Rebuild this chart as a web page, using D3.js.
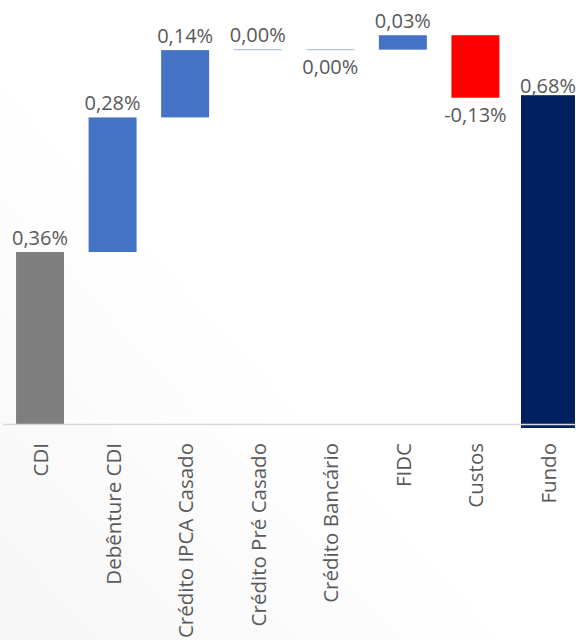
<!DOCTYPE html>
<html>
<head>
<meta charset="utf-8">
<script src="https://cdn.jsdelivr.net/npm/d3@7"></script>
<style>
  html, body { margin: 0; padding: 0; background: #ffffff; }
  svg { display: block; }
</style>
</head>
<body>
<svg id="chart" width="576" height="640"></svg>
<script>
// Attribution of the fund's return, in percentage points
const categories = ["CDI", "Debênture CDI", "Crédito IPCA Casado", "Crédito Pré Casado",
                    "Crédito Bancário", "FIDC", "Custos", "Fundo"];
const values = [0.36, 0.28, 0.14, 0.002, -0.001, 0.03, -0.13, 0.68];
const kinds = ["total", "step", "step", "step", "step", "step", "step", "total"];
const labels = ["0,36%", "0,28%", "0,14%", "0,00%", "0,00%", "0,03%", "-0,13%", "0,68%"];

const W = 576, H = 640;
const svg = d3.select("#chart");

// faint background sheen
const defs = svg.append("defs");
const grad = defs.append("linearGradient").attr("id", "bg")
  .attr("x1", "0").attr("y1", "1").attr("x2", "1").attr("y2", "0");
grad.append("stop").attr("offset", "0").attr("stop-color", "#f6f6f6");
grad.append("stop").attr("offset", "0.45").attr("stop-color", "#ffffff");
grad.append("stop").attr("offset", "1").attr("stop-color", "#ffffff");
svg.append("rect").attr("width", W).attr("height", H).attr("fill", "url(#bg)");

// running totals for the waterfall
let run = 0;
const bars = categories.map((c, i) => {
  let y0, y1;
  if (kinds[i] === "total") { y0 = 0; y1 = values[i]; run = values[i]; }
  else { y0 = run; y1 = run + values[i]; run = y1; }
  return { cat: c, v: values[i], y0, y1, kind: kinds[i], label: labels[i], i };
});

const x = d3.scaleBand().domain(categories).range([3.7, 584.3]).paddingInner(0.339).paddingOuter(0.17);
const y = d3.scaleLinear().domain([0, 0.8843]).range([425, 0]);

const color = (d) => {
  if (d.i === 0) return "#7f7f7f";
  if (d.i === categories.length - 1) return "#002060";
  return d.v < 0 ? "#ff0000" : "#4472c4";
};
const nearZero = (d) => Math.abs(d.v) < 0.005;

svg.append("g").selectAll("rect").data(bars).join("rect")
  .attr("x", d => x(d.cat))
  .attr("width", x.bandwidth())
  .attr("y", d => y(Math.max(d.y0, d.y1)))
  .attr("height", d => Math.max(1, Math.abs(y(d.y0) - y(d.y1))))
  .attr("fill", d => nearZero(d) ? "#4472c4" : color(d))
  .attr("fill-opacity", d => nearZero(d) ? 0.5 : 1)
  .attr("stroke", d => d.cat === "Fundo" ? "#002060" : "none")
  .attr("stroke-width", d => d.cat === "Fundo" ? 6 : 0);

// horizontal axis line
svg.append("line")
  .attr("x1", 3).attr("x2", W).attr("y1", 424.5).attr("y2", 424.5)
  .attr("stroke", "#d9d9d9").attr("stroke-width", 1.5);

// value labels: above rising bars, below falling ones
svg.append("g").selectAll("text").data(bars).join("text")
  .attr("x", d => x(d.cat) + x.bandwidth() / 2)
  .attr("y", d => d.v >= 0 ? y(Math.max(d.y0, d.y1)) - (d.cat === "Fundo" ? 5 : 7)
                           : y(Math.min(d.y0, d.y1)) + 24)
  .attr("text-anchor", "middle")
  .attr("font-family", "'Open Sans', sans-serif")
  .attr("font-size", 20)
  .attr("fill", "#595959")
  .text(d => d.label);

// rotated category labels
svg.append("g").selectAll("text").data(bars).join("text")
  .attr("transform", d => `translate(${x(d.cat) + x.bandwidth() / 2 + 8},443) rotate(-90)`)
  .attr("text-anchor", "end")
  .attr("font-family", "'Open Sans', sans-serif")
  .attr("font-size", 20.5)
  .attr("fill", "#595959")
  .text(d => d.cat);
</script>
</body>
</html>
